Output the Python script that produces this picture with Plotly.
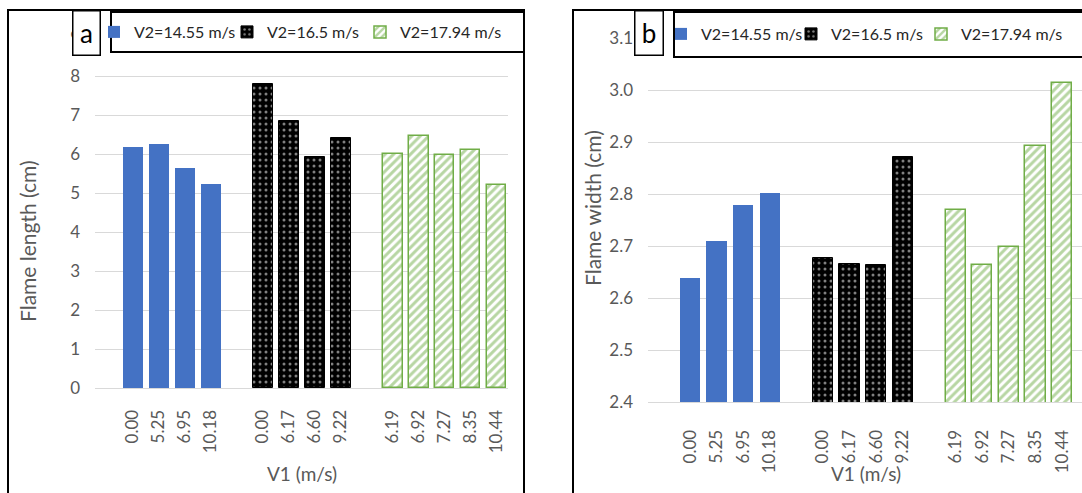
import plotly.graph_objects as go

# ---------------- data ----------------
v1_g1 = ["0.00", "5.25", "6.95", "10.18"]
v1_g2 = ["0.00", "6.17", "6.60", "9.22"]
v1_g3 = ["6.19", "6.92", "7.27", "8.35", "10.44"]

length_g1 = [6.17, 6.25, 5.65, 5.22]
length_g2 = [7.80, 6.85, 5.92, 6.40]
length_g3 = [6.00, 6.45, 5.97, 6.10, 5.20]

width_g1 = [2.638, 2.710, 2.779, 2.801]
width_g2 = [2.676, 2.666, 2.663, 2.871]
width_g3 = [2.770, 2.663, 2.698, 2.893, 3.013]

series_names = ["V2=14.55 m/s", "V2=16.5 m/s", "V2=17.94 m/s"]

# ---------------- styling ----------------
W, H = 1082, 493
FONT = "Lato"
GREY = "#595959"
GRID = "#d9d9d9"
BLUE = "#4472C4"
GREEN = "#70AD47"


def px_x(x):
    return x / W


def px_y(y):
    return 1 - y / H


groups_labels = [v1_g1, v1_g2, v1_g3]
# category slot positions: one empty slot between groups
positions = []
start = 0
for labels in groups_labels:
    positions.append([start + i for i in range(len(labels))])
    start += len(labels) + 1
all_pos = [p for g in positions for p in g]
all_labels = [l for g in groups_labels for l in g]

styles = [
    dict(color=BLUE, line=dict(color=BLUE, width=0)),
    dict(color="black", line=dict(color="black", width=1),
         pattern=dict(shape=".", fgcolor="white", bgcolor="black", size=6, solidity=0.2)),
    dict(color=GREEN, line=dict(color=GREEN, width=1.5),
         pattern=dict(shape="/", fgcolor=GREEN, bgcolor="white", size=6, solidity=0.5)),
]

fig = go.Figure()

for panel, data, xa, ya, leg in [
    ("a", [length_g1, length_g2, length_g3], "x", "y", "legend"),
    ("b", [width_g1, width_g2, width_g3], "x2", "y2", "legend2"),
]:
    for gi in range(3):
        fig.add_trace(go.Bar(
            x=positions[gi], y=data[gi], name=series_names[gi],
            marker=styles[gi], width=0.76, xaxis=xa, yaxis=ya, legend=leg,
        ))
    # empty spacer entry so the last legend label is not clipped by the fixed entry width
    fig.add_trace(go.Bar(
        x=[None], y=[None], name=" ", xaxis=xa, yaxis=ya, legend=leg,
        marker=dict(color="rgba(0,0,0,0)", line=dict(width=0)), hoverinfo="skip",
    ))

tickfont = dict(family=FONT, size=17, color=GREY)

fig.update_layout(
    width=W, height=H, autosize=False,
    margin=dict(l=0, r=0, t=0, b=0, autoexpand=False),
    paper_bgcolor="white", plot_bgcolor="white",
    font=dict(family=FONT, color=GREY),
    bargap=0,
    xaxis=dict(domain=[px_x(95), px_x(508)], range=[-1.46, 14.44],
               tickvals=all_pos, ticktext=all_labels, tickangle=-90,
               tickfont=tickfont, showgrid=False, showline=True, linecolor=GRID,
               linewidth=1, ticks="", ticklabelstandoff=14, anchor="y",
               automargin=False),
    yaxis=dict(domain=[px_y(388), px_y(37)], range=[0, 9], dtick=1,
               tickfont=tickfont, showgrid=True, gridcolor=GRID, gridwidth=1,
               zeroline=False, showline=False, ticks="", ticklabelstandoff=14,
               anchor="x", tickformat="d", automargin=False),
    xaxis2=dict(domain=[px_x(648), 1.0], range=[-1.58, 14.75],
                tickvals=all_pos, ticktext=all_labels, tickangle=-90,
                tickfont=tickfont, showgrid=False, showline=True, linecolor=GRID,
                linewidth=1, ticks="", ticklabelstandoff=20, anchor="y2",
                automargin=False),
    yaxis2=dict(domain=[px_y(402), px_y(38)], range=[2.4, 3.1], dtick=0.1,
                tickfont=tickfont, showgrid=True, gridcolor=GRID, gridwidth=1,
                zeroline=False, showline=False, ticks="", ticklabelstandoff=14,
                anchor="x2", tickformat=".1f", automargin=False),
    legend=dict(orientation="h", x=px_x(94), y=px_y(32), xanchor="left", yanchor="middle",
                bgcolor="rgba(0,0,0,0)", borderwidth=0,
                font=dict(family=FONT, size=16, color="#262626"),
                entrywidth=88, entrywidthmode="pixels", itemwidth=30),
    legend2=dict(orientation="h", x=px_x(661), y=px_y(34), xanchor="left", yanchor="middle",
                 bgcolor="rgba(0,0,0,0)", borderwidth=0,
                 font=dict(family=FONT, size=16, color="#262626"),
                 entrywidth=85, entrywidthmode="pixels", itemwidth=30),
    showlegend=True,
)

shapes = [
    # panel frames
    dict(type="rect", xref="paper", yref="paper", x0=px_x(8), x1=px_x(524),
         y0=px_y(500), y1=px_y(10), line=dict(color="black", width=2),
         fillcolor="rgba(0,0,0,0)", layer="above"),
    dict(type="rect", xref="paper", yref="paper", x0=px_x(573), x1=px_x(1095),
         y0=px_y(500), y1=px_y(10), line=dict(color="black", width=2),
         fillcolor="rgba(0,0,0,0)", layer="above"),
    # legend boxes
    dict(type="rect", xref="paper", yref="paper", x0=px_x(111), x1=px_x(524),
         y0=px_y(52), y1=px_y(12), line=dict(color="black", width=2),
         fillcolor="white", layer="above"),
    dict(type="rect", xref="paper", yref="paper", x0=px_x(674), x1=px_x(1095),
         y0=px_y(57), y1=px_y(12), line=dict(color="black", width=2),
         fillcolor="white", layer="above"),
]
fig.update_layout(shapes=shapes)

annotations = [
    dict(text="a", xref="paper", yref="paper", x=px_x(86), y=px_y(33),
         xanchor="center", yanchor="middle", showarrow=False,
         font=dict(family=FONT, size=26, color="black"),
         bgcolor="white", bordercolor="black", borderwidth=1.5, borderpad=0,
         width=26, height=43),
    dict(text="b", xref="paper", yref="paper", x=px_x(648.5), y=px_y(33),
         xanchor="center", yanchor="middle", showarrow=False,
         font=dict(family=FONT, size=26, color="black"),
         bgcolor="white", bordercolor="black", borderwidth=1.5, borderpad=0,
         width=27, height=43),
    dict(text="Flame length (cm)", xref="paper", yref="paper", x=px_x(27), y=px_y(241),
         textangle=-90, showarrow=False, xanchor="center", yanchor="middle",
         font=dict(family=FONT, size=21, color=GREY)),
    dict(text="Flame width (cm)", xref="paper", yref="paper", x=px_x(592), y=px_y(208),
         textangle=-90, showarrow=False, xanchor="center", yanchor="middle",
         font=dict(family=FONT, size=21, color=GREY)),
    dict(text="V1 (m/s)", xref="paper", yref="paper", x=px_x(302), y=px_y(473),
         showarrow=False, xanchor="center", yanchor="middle",
         font=dict(family=FONT, size=19, color=GREY)),
    dict(text="V1 (m/s)", xref="paper", yref="paper", x=px_x(866), y=px_y(473),
         showarrow=False, xanchor="center", yanchor="middle",
         font=dict(family=FONT, size=19, color=GREY)),
]
fig.update_layout(annotations=annotations)

fig.write_html("out.html", config={"displayModeBar": False},
               post_script="document.body.style.margin='0';")
